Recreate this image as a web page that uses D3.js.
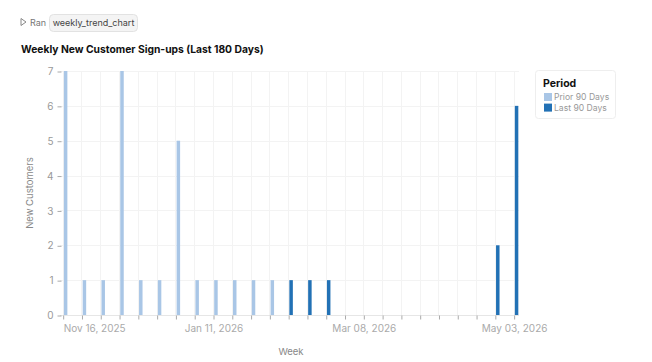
<!DOCTYPE html>
<html>
<head>
<meta charset="utf-8">
<script src="https://cdn.jsdelivr.net/npm/d3@7"></script>
<style>
  html, body { margin: 0; padding: 0; background: #fff; }
  body { width: 652px; height: 362px; overflow: hidden; font-family: Inter, "Noto Sans", sans-serif; }
</style>
</head>
<body>
<svg id="chart" width="652" height="362"></svg>
<script>
// ---- data ----
const weeks = [
  "2025-11-16","2025-11-23","2025-11-30","2025-12-07","2025-12-14","2025-12-21","2025-12-28",
  "2026-01-04","2026-01-11","2026-01-18","2026-01-25","2026-02-01",
  "2026-02-08","2026-02-15","2026-02-22","2026-04-26","2026-05-03"
];
const customers = [7,1,1,7,1,1,5,1,1,1,1,1,1,1,1,2,6];
const periods = [
  "Prior 90 Days","Prior 90 Days","Prior 90 Days","Prior 90 Days","Prior 90 Days","Prior 90 Days","Prior 90 Days",
  "Prior 90 Days","Prior 90 Days","Prior 90 Days","Prior 90 Days","Prior 90 Days",
  "Last 90 Days","Last 90 Days","Last 90 Days","Last 90 Days","Last 90 Days"
];
const periodNames = ["Prior 90 Days","Last 90 Days"];
const periodColors = ["#a9c6e6","#2271b5"];
const xDomain = ["2025-11-15","2026-05-05"];
const xLabelDates = ["2025-11-16","2026-01-11","2026-03-08","2026-05-03"];
const yTicks = [0,1,2,3,4,5,6,7];

const parse = d3.utcParse("%Y-%m-%d");
const data = weeks.map((w,i)=>({date: parse(w), value: customers[i], period: periods[i]}));

const svg = d3.select("#chart");
const font = 'Inter, "Noto Sans", sans-serif';

// header "Ran" pill
const hdr = svg.append("g");
hdr.append("path").attr("d","M21,18.5 L26,22 L21,25.5 Z").attr("fill","none").attr("stroke","#888").attr("stroke-width",1).attr("stroke-linejoin","round");
hdr.append("text").attr("x",30).attr("y",25.5).attr("font-family",font).attr("font-size",9).attr("fill","#777").text("Ran");
hdr.append("rect").attr("x",49.5).attr("y",14.5).attr("width",88).attr("height",17).attr("rx",4)
  .attr("fill","#f4f4f4").attr("stroke","#e2e2e2");
hdr.append("text").attr("x",93.5).attr("y",25.5).attr("text-anchor","middle").attr("font-family",font).attr("font-size",9).attr("fill","#444").text("weekly_trend_chart");

// title
svg.append("text").attr("x",21).attr("y",53).attr("font-family",font).attr("font-size",10.3).attr("font-weight",700)
  .attr("fill","#111").text("Weekly New Customer Sign-ups (Last 180 Days)");

// scales
const x = d3.scaleUtc().domain(xDomain.map(parse)).range([60, 519]);
const y = d3.scaleLinear().domain([0,7]).range([315, 71]);
const color = d3.scaleOrdinal().domain(periodNames).range(periodColors);

const weekTicks = d3.utcWeek.every(1).range(parse("2025-11-16"), parse("2026-05-04"));

// grid
const g = svg.append("g");
g.selectAll("line.vg").data(weekTicks).join("line")
  .attr("x1",d=>Math.round(x(d))+0.5).attr("x2",d=>Math.round(x(d))+0.5)
  .attr("y1",y(7)).attr("y2",y(0)).attr("stroke","#f3f3f3").attr("stroke-width",1);
g.selectAll("line.hg").data(yTicks).join("line")
  .attr("x1",60).attr("x2",519)
  .attr("y1",d=>Math.round(y(d))+0.5).attr("y2",d=>Math.round(y(d))+0.5)
  .attr("stroke",d=>d===0?"#e6e6e6":"#f3f3f3").attr("stroke-width",1);

// bars
const dayW = x(parse("2025-11-17")) - x(parse("2025-11-16"));
svg.append("g").selectAll("rect").data(data).join("rect")
  .attr("x",d=>x(d.date)+1.2)
  .attr("width",dayW*1.3)
  .attr("y",d=>y(d.value))
  .attr("height",d=>y(0)-y(d.value))
  .attr("fill",d=>color(d.period));

// y axis
const yAxis = d3.axisLeft(y).tickValues(yTicks).tickSize(4).tickPadding(4).tickFormat(d3.format("d"));
const ya = svg.append("g").attr("transform","translate(61.5,0.5)").call(yAxis);
ya.select(".domain").remove();
ya.selectAll(".tick line").attr("stroke","#aaa");
ya.selectAll(".tick text").attr("fill","#999").attr("font-family",font).attr("font-size",10);

// x axis
const xAxis = d3.axisBottom(x).tickValues(weekTicks).tickSize(4).tickPadding(5)
  .tickFormat(d => xLabelDates.includes(d3.utcFormat("%Y-%m-%d")(d)) ? d3.utcFormat("%b %d, %Y")(d) : "");
const xa = svg.append("g").attr("transform","translate(0.5,315.5)").call(xAxis);
xa.select(".domain").remove();
xa.selectAll(".tick line").attr("stroke","#aaa");
xa.selectAll(".tick text").attr("fill","#aaa").attr("font-family",font).attr("font-size",10)
  .attr("text-anchor",(d,i)=> i===0 ? "start" : "middle");

// axis titles
svg.append("text").attr("transform","translate(33,193) rotate(-90)").attr("text-anchor","middle")
  .attr("font-family",font).attr("font-size",9.5).attr("fill","#888").text("New Customers");
svg.append("text").attr("x",291).attr("y",355).attr("text-anchor","middle")
  .attr("font-family",font).attr("font-size",9.5).attr("fill","#888").text("Week");

// legend
const lg = svg.append("g");
lg.append("rect").attr("x",535.5).attr("y",70.5).attr("width",80).attr("height",48).attr("rx",3)
  .attr("fill","#fff").attr("stroke","#eeeeee");
lg.append("text").attr("x",543).attr("y",87).attr("font-family",font).attr("font-size",10.5).attr("font-weight",700)
  .attr("fill","#111").text("Period");
periodNames.forEach((p,i)=>{
  lg.append("rect").attr("x",544).attr("y",93+i*10.6).attr("width",8).attr("height",8).attr("fill",color(p));
  lg.append("text").attr("x",554).attr("y",100+i*10.6).attr("font-family",font).attr("font-size",8.6)
    .attr("fill","#999").text(p);
});
</script>
</body>
</html>
